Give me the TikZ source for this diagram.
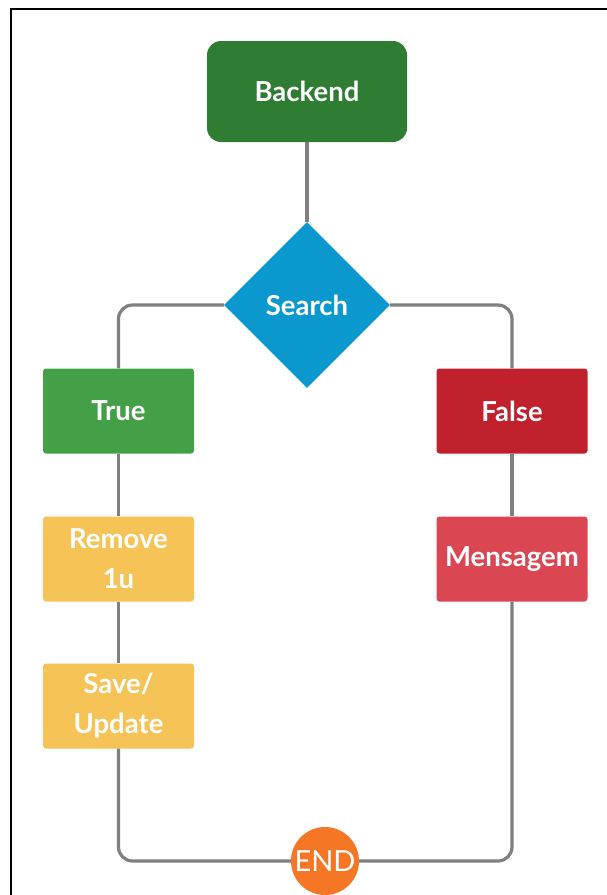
\documentclass[tikz,border=0pt]{standalone}
\usepackage{fontspec}
\setmainfont{Lato}
\usetikzlibrary{shapes.geometric}
\definecolor{cBackend}{HTML}{2E7D32}
\definecolor{cSearch}{HTML}{0A98CF}
\definecolor{cTrue}{HTML}{43A047}
\definecolor{cFalse}{HTML}{C1212D}
\definecolor{cYellow}{HTML}{F5C356}
\definecolor{cMens}{HTML}{DB4653}
\definecolor{cEnd}{HTML}{F57725}
\definecolor{cLine}{HTML}{808080}
\tikzset{
  lbl/.style={text=white, font=\bfseries\fontsize{27.5}{40}\selectfont, align=center, inner sep=0pt},
  boxnode/.style={lbl, rectangle, rounded corners=3pt, minimum width=151pt, minimum height=85pt},
  conn/.style={draw=cLine, line width=3.2pt, rounded corners=14pt},
}
\begin{document}
\begin{tikzpicture}[x=1pt, y=-1pt]
\useasboundingbox (0,0) rectangle (607,895);
% frame
\draw[black, line width=2pt] (11,920) -- (11,9) -- (640,9);
% nodes
\node[lbl, fill=cBackend, rectangle, rounded corners=14pt, minimum width=200pt, minimum height=101pt] (backend) at (307,91.5) {Backend};
\node[lbl, fill=cSearch, diamond, minimum width=166pt, minimum height=166pt] (search) at (307,305) {Search};
\node[boxnode, fill=cTrue] (true) at (118.5,411) {True};
\node[boxnode, fill=cFalse] (false) at (512,411) {False};
\node[boxnode, fill=cYellow] (remove) at (118.5,559) {Remove\\1u};
\node[boxnode, fill=cYellow] (save) at (118.5,706) {Save/\\Update};
\node[boxnode, fill=cMens] (mens) at (512,559) {Mensagem};
\node[lbl, fill=cEnd, circle, minimum size=68pt, font=\fontsize{29}{30}\selectfont] (end) at (325,861) {END};
% connectors
\draw[conn] (backend.south) -- (search.north);
\draw[conn] (search.west) -| (true.north);
\draw[conn] (search.east) -| (false.north);
\draw[conn] (true.south) -- (remove.north);
\draw[conn] (remove.south) -- (save.north);
\draw[conn] (false.south) -- (mens.north);
\draw[conn] (save.south) |- (end.west);
\draw[conn] (mens.south) |- (end.east);
\end{tikzpicture}
\end{document}
